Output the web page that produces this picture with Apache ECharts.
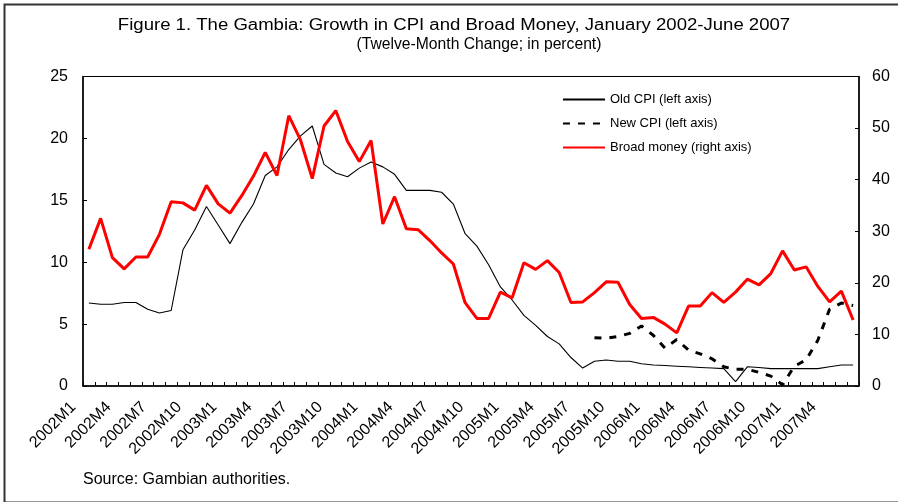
<!DOCTYPE html>
<html>
<head>
<meta charset="utf-8">
<script src="https://cdn.jsdelivr.net/npm/echarts@6/dist/echarts.min.js"></script>
<style>
html,body{margin:0;padding:0;background:#fff;}
#chart{width:898px;height:502px;}
</style>
</head>
<body>
<div id="chart"></div>
<script>
var months = ["2002M1","2002M2","2002M3","2002M4","2002M5","2002M6","2002M7","2002M8","2002M9","2002M10","2002M11","2002M12",
"2003M1","2003M2","2003M3","2003M4","2003M5","2003M6","2003M7","2003M8","2003M9","2003M10","2003M11","2003M12",
"2004M1","2004M2","2004M3","2004M4","2004M5","2004M6","2004M7","2004M8","2004M9","2004M10","2004M11","2004M12",
"2005M1","2005M2","2005M3","2005M4","2005M5","2005M6","2005M7","2005M8","2005M9","2005M10","2005M11","2005M12",
"2006M1","2006M2","2006M3","2006M4","2006M5","2006M6","2006M7","2006M8","2006M9","2006M10","2006M11","2006M12",
"2007M1","2007M2","2007M3","2007M4","2007M5","2007M6"];

var oldCPI = [6.7,6.6,6.6,6.75,6.75,6.2,5.9,6.1,11.0,12.6,
14.5,13.0,11.5,13.2,14.7,17.0,17.7,19.1,20.2,21.0,
17.9,17.2,16.9,17.6,18.1,17.7,17.1,15.8,15.8,15.8,
15.65,14.7,12.3,11.3,9.8,8.0,6.95,5.7,4.9,4.0,
3.4,2.3,1.45,2.0,2.1,2.0,2.0,1.8,1.7,1.65,
1.6,1.55,1.5,1.45,1.4,0.35,1.55,1.5,1.4,1.4,
1.4,1.4,1.4,1.55,1.7,1.7];

var newCPI = [null,null,null,null,null,null,null,null,null,null,
null,null,null,null,null,null,null,null,null,null,
null,null,null,null,null,null,null,null,null,null,
null,null,null,null,null,null,null,null,null,null,
null,null,null,3.9,3.85,4.0,4.25,4.85,4.1,3.05,
3.75,2.9,2.6,2.2,1.55,1.35,1.35,1.1,0.8,0.1,
1.6,2.1,3.7,6.2,6.7,6.5];

var broadMoney = [26.5,32.5,24.9,22.7,25.0,25.0,29.4,35.7,35.5,34.1,
38.9,35.3,33.5,36.9,40.7,45.3,40.8,52.4,47.7,40.2,
50.4,53.4,47.4,43.5,47.6,31.4,36.7,30.5,30.3,28.2,
25.8,23.65,16.15,13.1,13.1,18.2,17.1,23.9,22.6,24.3,
22.0,16.2,16.3,18.1,20.2,20.1,15.8,13.1,13.3,12.0,
10.3,15.5,15.5,18.1,16.2,18.2,20.7,19.6,21.8,26.2,
22.5,23.1,19.3,16.3,18.4,12.8];

var seriesNames = ["Old CPI (left axis)","New CPI (left axis)","Broad money (right axis)"];
var titleText = "Figure 1. The Gambia: Growth in CPI and Broad Money, January 2002-June 2007";
var subtitleText = "(Twelve-Month Change; in percent)";
var sourceText = "Source: Gambian authorities.";

var FONT = "'Liberation Sans', Arial, Helvetica, sans-serif";
var chart = echarts.init(document.getElementById('chart'), null, {renderer:'canvas'});

chart.setOption({
  backgroundColor:'#ffffff',
  animation:false,
  textStyle:{fontFamily:FONT},
  graphic:[
    {type:'rect', left:2, top:2, shape:{x:0,y:0,width:900,height:498}, style:{fill:'none', stroke:'#333', lineWidth:2}, silent:true},
    {type:'text', x:454, y:25.5, scaleX:1.16, style:{text:titleText, x:0, y:0, align:'center', verticalAlign:'middle', fontSize:16, fontFamily:FONT, fill:'#000'}},
    {type:'text', x:479, y:45, scaleX:0.98, style:{text:subtitleText, x:0, y:0, align:'center', verticalAlign:'middle', fontSize:16, fontFamily:FONT, fill:'#000'}},
    {type:'text', x:83, y:480, style:{text:sourceText, x:0, y:0, align:'left', verticalAlign:'middle', fontSize:16, fontFamily:FONT, fill:'#000'}}
  ],
  legend:{
    orient:'vertical', left:557, top:88,
    itemWidth:42, itemHeight:12, itemGap:11,
    itemStyle:{opacity:0, color:'transparent', borderColor:'transparent', borderWidth:0},
    textStyle:{fontSize:13, color:'#000', fontFamily:FONT},
    data:seriesNames
  },
  grid:{left:83, right:39, top:76.5, bottom:116, show:true, borderColor:'#000', borderWidth:1, containLabel:false},
  xAxis:{
    type:'category', data:months, boundaryGap:true,
    axisLine:{lineStyle:{color:'#000', width:1.5}},
    axisTick:{show:true, inside:true, length:4, interval:0, lineStyle:{color:'#000'}},
    axisLabel:{interval:2, rotate:45, fontSize:16, color:'#000', margin:3, fontFamily:FONT, padding:[0,22,0,0]},
    splitLine:{show:false}
  },
  yAxis:[
    {type:'value', min:0, max:25, interval:5, position:'left',
     axisLine:{show:true, lineStyle:{color:'#000', width:1.5}},
     axisTick:{show:true, inside:true, length:4, lineStyle:{color:'#000'}},
     axisLabel:{fontSize:16, color:'#000', margin:15, fontFamily:FONT},
     splitLine:{show:false}},
    {type:'value', min:0, max:60, interval:10, position:'right',
     axisLine:{show:true, lineStyle:{color:'#000', width:1.5}},
     axisTick:{show:true, inside:true, length:4, lineStyle:{color:'#000'}},
     axisLabel:{fontSize:16, color:'#000', margin:13, fontFamily:FONT},
     splitLine:{show:false}}
  ],
  series:[
    {name:seriesNames[0], type:'line', yAxisIndex:0, data:oldCPI, symbol:'none', smooth:false,
     lineStyle:{color:'#000', width:1.1}, itemStyle:{color:'#000'}},
    {name:seriesNames[1], type:'line', yAxisIndex:0, data:newCPI, symbol:'none', smooth:false,
     lineStyle:{color:'#000', width:3, type:[7,8]}, itemStyle:{color:'#000'}},
    {name:seriesNames[2], type:'line', yAxisIndex:1, data:broadMoney, symbol:'none', smooth:false,
     lineStyle:{color:'#ff0000', width:3}, itemStyle:{color:'#ff0000'}}
  ]
});
</script>
</body>
</html>
